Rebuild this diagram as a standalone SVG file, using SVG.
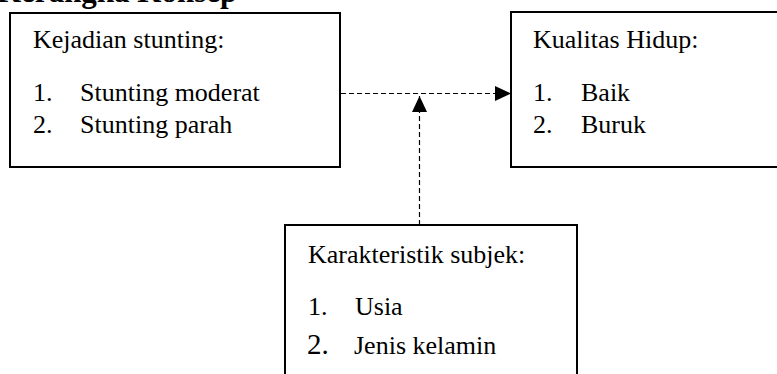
<svg xmlns="http://www.w3.org/2000/svg" width="777" height="374" viewBox="0 0 777 374">
<style>
.box{fill:#fff;stroke:#000;stroke-width:2}
.t{font-family:"Liberation Serif",serif;font-size:26px;fill:#000}
.big{font-size:29px}
.title{font-family:"Liberation Serif",serif;font-size:31px;font-weight:bold;fill:#000}
.dash{stroke:#000;stroke-width:1.2;stroke-dasharray:5,3;fill:none}
</style>
<defs>
<marker id="ah" markerWidth="16" markerHeight="15" refX="16" refY="7.5" orient="auto" markerUnits="userSpaceOnUse">
<path d="M0,0 L16,7.5 L0,15 Z" fill="#000"/>
</marker>
</defs>
<rect width="777" height="374" fill="#fff"/>
<text class="title" x="-3" y="2">Kerangka Konsep</text>
<g id="connectors">
<line class="dash" x1="341" y1="93.5" x2="511" y2="93.5" marker-end="url(#ah)"/>
<line class="dash" x1="419.5" y1="225" x2="419.5" y2="96" marker-end="url(#ah)"/>
</g>
<g id="kejadian">
<rect class="box" x="10" y="13" width="330" height="154"/>
<text class="t" x="33" y="48">Kejadian stunting:</text>
<text class="t" x="33" y="101">1.</text>
<text class="t" x="80" y="101">Stunting moderat</text>
<text class="t" x="33" y="133">2.</text>
<text class="t" x="80" y="133">Stunting parah</text>
</g>
<g id="kualitas">
<rect class="box" x="511" y="12" width="300" height="155"/>
<text class="t" x="533" y="48">Kualitas Hidup:</text>
<text class="t" x="533" y="101">1.</text>
<text class="t" x="581" y="101">Baik</text>
<text class="t" x="533" y="133">2.</text>
<text class="t" x="581" y="133">Buruk</text>
</g>
<g id="karakteristik">
<rect class="box" x="285" y="225" width="292" height="180"/>
<text class="t" x="308" y="263">Karakteristik subjek:</text>
<text class="t" x="308" y="315">1.</text>
<text class="t" x="355" y="315">Usia</text>
<text class="t big" x="307" y="354">2.</text>
<text class="t" x="354" y="354">Jenis kelamin</text>
</g>
</svg>
